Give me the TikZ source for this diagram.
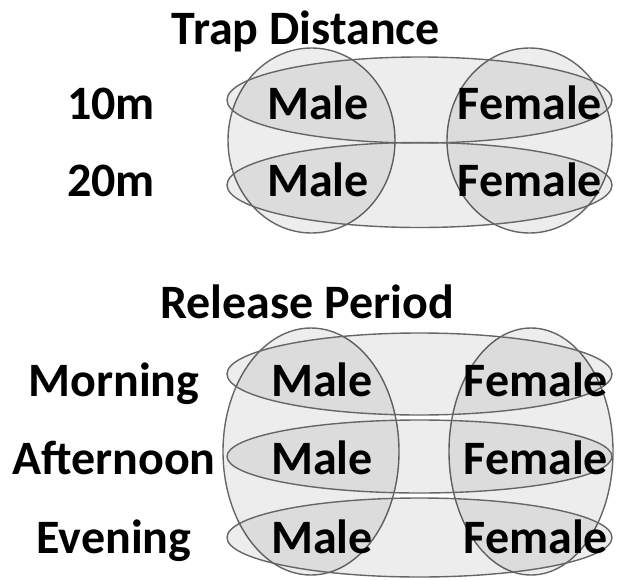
\documentclass[tikz,border=0pt]{standalone}
\usepackage{fontspec}
\setmainfont{Carlito}
\usepackage{tikz}
\usetikzlibrary{shapes}
\tikzstyle{ring} = [ellipse, draw=black!60, line width=1.4pt, fill=black, fill opacity=0.07, draw opacity=1, inner sep=0pt]
\tikzstyle{word} = [font=\fontsize{48}{52}\selectfont\bfseries, inner sep=0pt, anchor=base, text opacity=1]

\begin{document}
\begin{tikzpicture}[x=1pt, y=-1pt]
\useasboundingbox (0,0) rectangle (619,579);

% trap distance
\node (maleTD) [ring, minimum width=167pt, minimum height=185pt] at (311.5,140.5) {};
\node (femTD) [ring, minimum width=165pt, minimum height=185pt] at (529.5,140.5) {};
\node (row10) [ring, minimum width=385pt, minimum height=86pt] at (419.5,100) {};
\node (row20) [ring, minimum width=385pt, minimum height=85pt] at (419.5,185) {};

\node (trap) [word] at (306,44) {Trap Distance};
\node (ten) [word] at (111,119) {10m};
\node (twenty) [word] at (111,196) {20m};
\node (m10) [word] at (318,119) {Male};
\node (f10) [word] at (530,119) {Female};
\node (m20) [word] at (318,196) {Male};
\node (f20) [word] at (530,196) {Female};

% release period
\node (maleRP) [ring, minimum width=176pt, minimum height=247pt] at (311,451.5) {};
\node (femRP) [ring, minimum width=164pt, minimum height=247pt] at (531,451.5) {};
\node (rowMo) [ring, minimum width=385pt, minimum height=82pt] at (419.5,374) {};
\node (rowAf) [ring, minimum width=385pt, minimum height=73pt] at (419.5,456.5) {};
\node (rowEv) [ring, minimum width=385pt, minimum height=79pt] at (419.5,537.5) {};

\node (release) [word] at (307,318) {Release Period};
\node (morn) [word] at (114,396) {Morning};
\node (aftn) [word] at (114,474) {Afternoon};
\node (even) [word] at (114,553) {Evening};
\node (mMo) [word] at (322,396) {Male};
\node (fMo) [word] at (536,396) {Female};
\node (mAf) [word] at (322,474) {Male};
\node (fAf) [word] at (536,474) {Female};
\node (mEv) [word] at (322,553) {Male};
\node (fEv) [word] at (536,553) {Female};

\end{tikzpicture}
\end{document}
